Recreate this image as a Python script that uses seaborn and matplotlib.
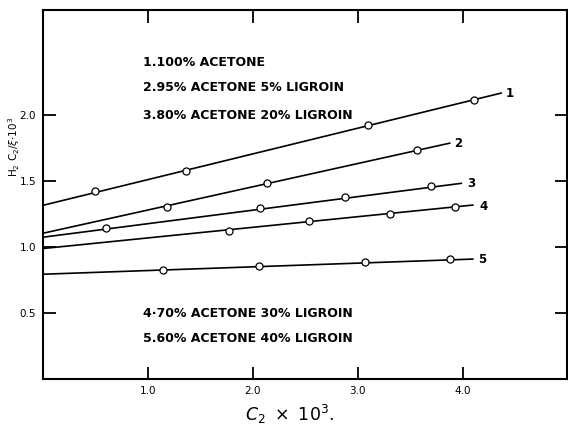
import numpy as np
import pandas as pd
import matplotlib
matplotlib.use("Agg")
import matplotlib.pyplot as plt
import seaborn as sns

# ---- data ----
series = ["1", "2", "3", "4", "5"]
pts_x = {
    "1": [0.50, 1.36, 3.10, 4.11],
    "2": [1.18, 2.14, 3.57],
    "3": [0.60, 2.07, 2.88, 3.70],
    "4": [1.77, 2.54, 3.31, 3.93],
    "5": [1.14, 2.06, 3.07, 3.88],
}
pts_y = {
    "1": [1.424, 1.576, 1.924, 2.12],
    "2": [1.303, 1.49, 1.735],
    "3": [1.144, 1.295, 1.379, 1.462],
    "4": [1.121, 1.197, 1.25, 1.303],
    "5": [0.826, 0.856, 0.886, 0.909],
}
# straight fitted lines: start (x=0) and end values
line_x_start = [0.0, 0.0, 0.0, 0.0, 0.0]
line_y_start = [1.318, 1.106, 1.076, 0.99, 0.795]
line_x_end = [4.37, 3.88, 3.99, 4.10, 4.10]
line_y_end = [2.17, 1.79, 1.485, 1.32, 0.91]
# curve number labels
label_x = [4.41, 3.92, 4.04, 4.16, 4.15]
label_y = [2.17, 1.79, 1.48, 1.31, 0.91]

legend_top = ["1.100% ACETONE", "2.95% ACETONE 5% LIGROIN", "3.80% ACETONE 20% LIGROIN"]
legend_top_y = [2.40, 2.21, 2.00]
legend_bot = ["4\u00b770% ACETONE 30% LIGROIN", "5.60% ACETONE 40% LIGROIN"]
legend_bot_y = [0.50, 0.31]

xticks = [1.0, 2.0, 3.0, 4.0]
yticks = [0.5, 1.0, 1.5, 2.0]

# ---- tables ----
pts = pd.DataFrame(
    [(s, x, y) for s in series for x, y in zip(pts_x[s], pts_y[s])],
    columns=["series", "x", "y"],
)
lines = pd.DataFrame(
    [(s, xa, ya) for s, x0, y0, x1, y1 in zip(series, line_x_start, line_y_start, line_x_end, line_y_end)
     for xa, ya in ((x0, y0), (x1, y1))],
    columns=["series", "x", "y"],
)

sns.set_style("ticks")
plt.rcParams["font.family"] = ["DejaVu Sans"]
plt.rcParams["text.color"] = "black"
plt.rcParams["axes.labelcolor"] = "black"
plt.rcParams["xtick.color"] = "black"
plt.rcParams["ytick.color"] = "black"

fig = plt.figure(figsize=(5.68, 4.30), dpi=100)
ax = fig.add_axes([43 / 568, 51 / 430, 1 - 43 / 568 - 0.001, (379 - 10) / 430])

pal = {s: "black" for s in series}
sns.lineplot(data=lines, x="x", y="y", hue="series", palette=pal, units="series",
             estimator=None, linewidth=1.2, legend=False, ax=ax, sort=False)
sns.scatterplot(data=pts, x="x", y="y", color="white", edgecolor="black",
                linewidth=0.9, s=26, legend=False, ax=ax, zorder=5)

for s, lx, ly in zip(series, label_x, label_y):
    ax.text(lx, ly, s, fontsize=8.5, fontweight="bold", va="center", ha="left")

for t, yy in zip(legend_top, legend_top_y):
    ax.text(0.95, yy, t, fontsize=9, fontweight="bold", va="center", ha="left")
for t, yy in zip(legend_bot, legend_bot_y):
    ax.text(0.95, yy, t, fontsize=9, fontweight="bold", va="center", ha="left")

ax.set_xlim(0, 5.0)
ax.set_ylim(0, 2.8)
ax.set_xticks(xticks)
ax.set_xticklabels([f"{v:.1f}" for v in xticks])
ax.set_yticks(yticks)
ax.set_yticklabels([f"{v:.1f}" for v in yticks])
ax.tick_params(direction="in", length=9, width=1.3, labelsize=7.5,
               top=True, right=True, bottom=True, left=True, pad=5)
for sp in ax.spines.values():
    sp.set_visible(True)
    sp.set_linewidth(1.5)
    sp.set_color("black")

ax.set_xlabel(r"$C_2\ \times\ 10^3$.", fontsize=12.5, family="DejaVu Serif")
ax.xaxis.set_label_coords(0.47, -0.065)
ax.set_ylabel(r"H$_2$ C$_2$/$\xi$$\cdot$10$^3$", fontsize=7.5)
ax.yaxis.set_label_coords(-0.04, 0.63)

fig.savefig("out.png", dpi=100, facecolor="white")
